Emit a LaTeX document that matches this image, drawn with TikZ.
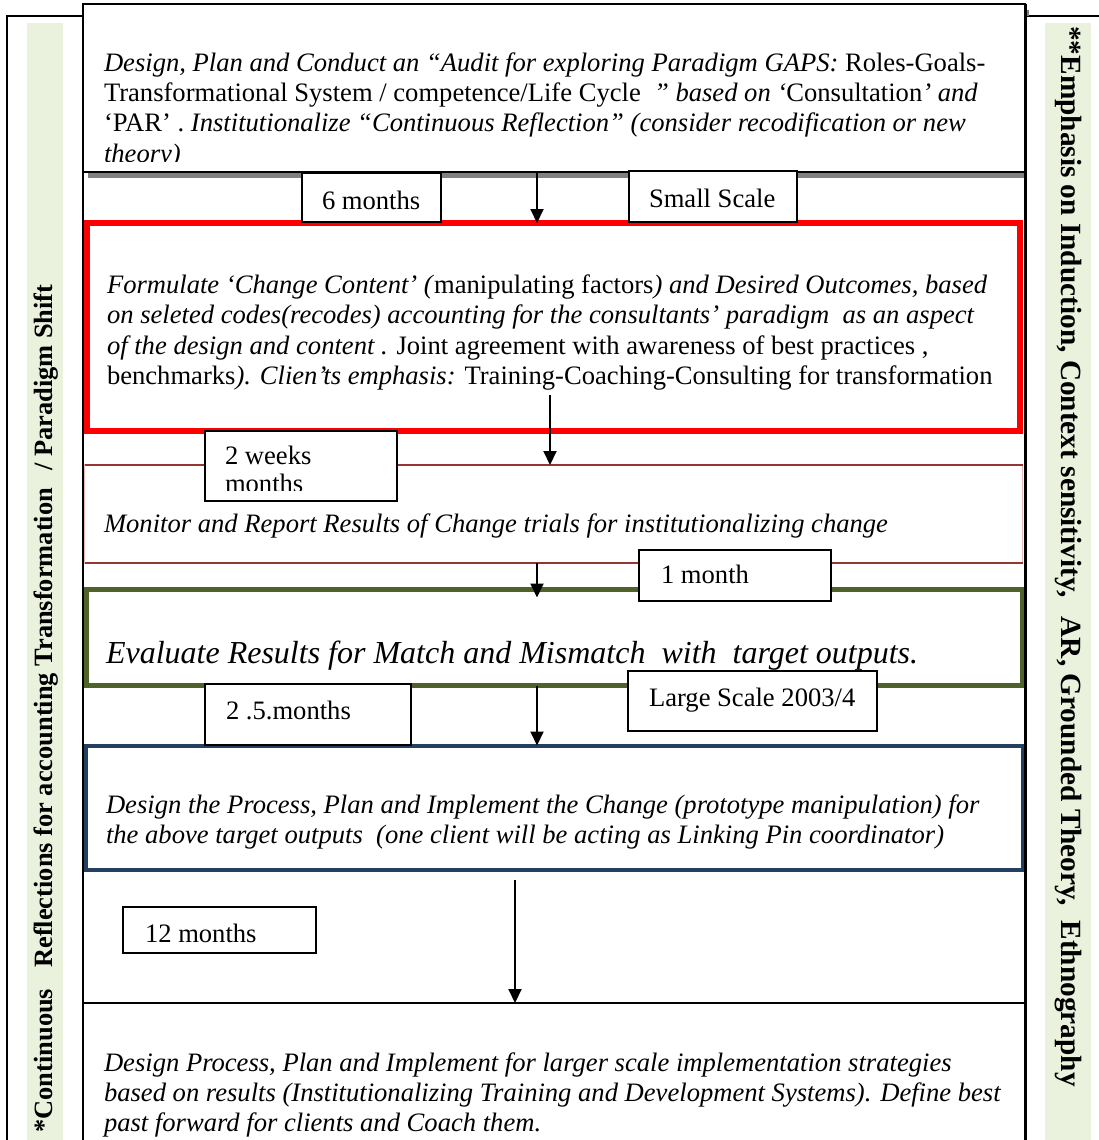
\documentclass[tikz,border=0pt]{standalone}
\usepackage{fontspec}
\setmainfont{Liberation Serif}
\usetikzlibrary{arrows.meta}

\definecolor{barfill}{HTML}{EAF1DD}
\definecolor{redline}{HTML}{FF0000}
\definecolor{brownline}{HTML}{943634}
\definecolor{pinkline}{HTML}{E6B9B8}
\definecolor{oliveline}{HTML}{4F6228}
\definecolor{navyline}{HTML}{243F60}
\definecolor{shadowgray}{HTML}{808080}

\newcommand\bodyfont{\fontsize{26.6pt}{30.5pt}\selectfont}
\newcommand\bigbodyfont{\fontsize{32pt}{38pt}\selectfont}
\newcommand\leftsidefont{\bfseries\fontsize{26.4pt}{32pt}\selectfont}
\newcommand\rightsidefont{\bfseries\fontsize{29.3pt}{35pt}\selectfont}

\begin{document}
\begin{tikzpicture}[x=1pt,y=-1pt,
  every node/.style={inner sep=0pt,outer sep=0pt},
  txt/.style={anchor=base west,font=\bodyfont},
  bigtxt/.style={anchor=base west,font=\bigbodyfont},
  frame/.style={anchor=north west,fill=white},
  tagbox/.style={draw=black,line width=2pt,fill=white,anchor=north west},
  flow/.style={draw=black,line width=2pt,-{Triangle[length=14pt,width=13pt]}}
]
\useasboundingbox (0,0) rectangle (1099,1140);
\begin{scope}
\clip (0,0) rectangle (1099,1140);

% outer frame and the two side notes
\draw[line width=2pt] (7,16) rectangle (1140,1180);
\fill[barfill] (27,23) rectangle (63,1160);
\fill[barfill] (1045,23) rectangle (1091,1160);
\node[font=\leftsidefont,rotate=90] (leftnote) at (46,708.5)
  {*Continuous\hspace{0.55em} Reflections for accounting Transformation\hspace{0.4em} / Paradigm Shift};
\node[font=\rightsidefont,rotate=-90] (rightnote) at (1068,556.5)
  {**Emphasis on Induction, Context sensitivity,\hspace{0.4em} AR, Grounded Theory,\hspace{0.25em} Ethnography};

% main column
\fill[shadowgray] (88,172) rectangle (1025,178);
\fill[shadowgray] (1025,10) rectangle (1029,16);
\draw[line width=2pt] (83,4) -- (83,1160);
\node[frame,draw=black,line width=2pt,minimum width=942pt,minimum height=168pt] (plan) at (83,4) {};
\begin{scope}
\clip (84,5) rectangle (1024,161);
\node[txt] (plan1) at (104,71) {\textit{Design, Plan and Conduct an “Audit for exploring Paradigm GAPS:} Roles-Goals-};
\node[txt] (plan2) at (104,101) {Transformational System / competence/Life Cycle \textit{ ” based on ‘}Consultation\textit{’ and}};
\node[txt] (plan3) at (104,131) {‘PAR’ . \textit{Institutionalize “Continuous Reflection” (consider recodification or new}};
\node[txt] (plan4) at (104,162) {\textit{theory)}};
\end{scope}

% change content
\node[anchor=north west,draw=redline,line width=6pt,minimum width=933pt,minimum height=208pt] (content) at (87,223) {};
\node[txt] (content1) at (107,293) {\textit{Formulate ‘Change Content’ (}manipulating factors\textit{) and Desired Outcomes, based}};
\node[txt] (content2) at (107,323) {\textit{on seleted codes(recodes) accounting for the consultants’ paradigm\ \ as an aspect}};
\node[txt] (content3) at (107,354) {\textit{of the design and content .} Joint agreement with awareness of best practices ,};
\node[txt] (content4) at (107,384) {benchmarks\textit{). Clien’ts emphasis:} Training-Coaching-Consulting for transformation};

% monitoring
\node[anchor=north west,draw=pinkline,line width=1.5pt,minimum width=938pt,minimum height=98pt] (monitor) at (84.5,465) {};
\draw[brownline,line width=2.5pt] (monitor.north west) -- (monitor.north east);
\draw[brownline,line width=2.5pt] (monitor.south west) -- (monitor.south east);
\node[txt] (monitor1) at (104,532) {\textit{Monitor and Report Results of Change trials for institutionalizing change}};

% evaluation
\node[anchor=north west,draw=oliveline,line width=5pt,minimum width=936pt,minimum height=96pt] (evaluate) at (86.5,589.5) {};
\node[bigtxt] (evaluate1) at (106,663) {\textit{Evaluate Results for Match and Mismatch\ \ with\ \ target outputs.}};

% prototype change
\node[anchor=north west,draw=navyline,line width=4pt,minimum width=937pt,minimum height=124.5pt] (prototype) at (85.5,745.5) {};
\node[txt] (prototype1) at (106,813) {\textit{Design the Process, Plan and Implement the Change (prototype manipulation) for}};
\node[txt] (prototype2) at (106,843) {\textit{the above target outputs\ \ (one client will be acting as Linking Pin coordinator)}};

% larger scale
\node[anchor=north west,draw=black,line width=2pt,minimum width=942pt,minimum height=200pt] (scaleup) at (83,1003) {};
\node[txt] (scaleup1) at (104,1071) {\textit{Design Process, Plan and Implement for larger scale implementation strategies}};
\node[txt] (scaleup2) at (104,1101) {\textit{based on results (Institutionalizing Training and Development Systems). Define best}};
\node[txt] (scaleup3) at (104,1131) {\textit{past forward for clients and Coach them.}};

\draw[line width=3pt] (1025,4) -- (1025,1160);

% duration and scale tags
\node[tagbox,minimum width=139pt,minimum height=49pt] (t6) at (302,173) {};
\node[txt] (t6txt) at (322,209) {6 months};
\node[tagbox,minimum width=168pt,minimum height=51pt] (tsmall) at (629,171) {};
\node[txt] (tsmalltxt) at (649,207) {Small Scale};
\node[tagbox,minimum width=192pt,minimum height=70pt] (t2w) at (205,431) {};
\begin{scope}
\clip (206,432) rectangle (396,490);
\node[txt] (t2wtxt) at (225,464) {2 weeks};
\node[txt] (t2wtxtb) at (225,492) {months};
\end{scope}
\node[tagbox,minimum width=192pt,minimum height=51pt] (t1m) at (639,550) {};
\node[txt] (t1mtxt) at (661,583) {1 month};
\node[tagbox,minimum width=206pt,minimum height=61pt] (t25) at (205,684) {};
\node[txt] (t25txt) at (226,719) {2 .5.months};
\node[tagbox,minimum width=249pt,minimum height=60pt] (tlarge) at (628,671) {};
\node[txt] (tlargetxt) at (649,706) {Large Scale 2003/4};
\node[tagbox,minimum width=193pt,minimum height=46pt] (t12) at (123,907) {};
\node[txt] (t12txt) at (145,942) {12 months};

% flow arrows
\coordinate (xa) at (537,0);
\coordinate (xb) at (550,0);
\coordinate (xc) at (515,0);
\coordinate (a2start) at (550,395);
\coordinate (a5start) at (515,880);
\draw[flow] (plan.south -| xa) -- (content.north -| xa);
\draw[flow] (a2start) -- (monitor.north -| xb);
\draw[flow] (monitor.south -| xa) -- ([yshift=-8pt]evaluate.north -| xa);
\draw[flow] (evaluate.south -| xa) -- (prototype.north -| xa);
\draw[flow] (a5start) -- (scaleup.north -| xc);
\end{scope}
\end{tikzpicture}
\end{document}
